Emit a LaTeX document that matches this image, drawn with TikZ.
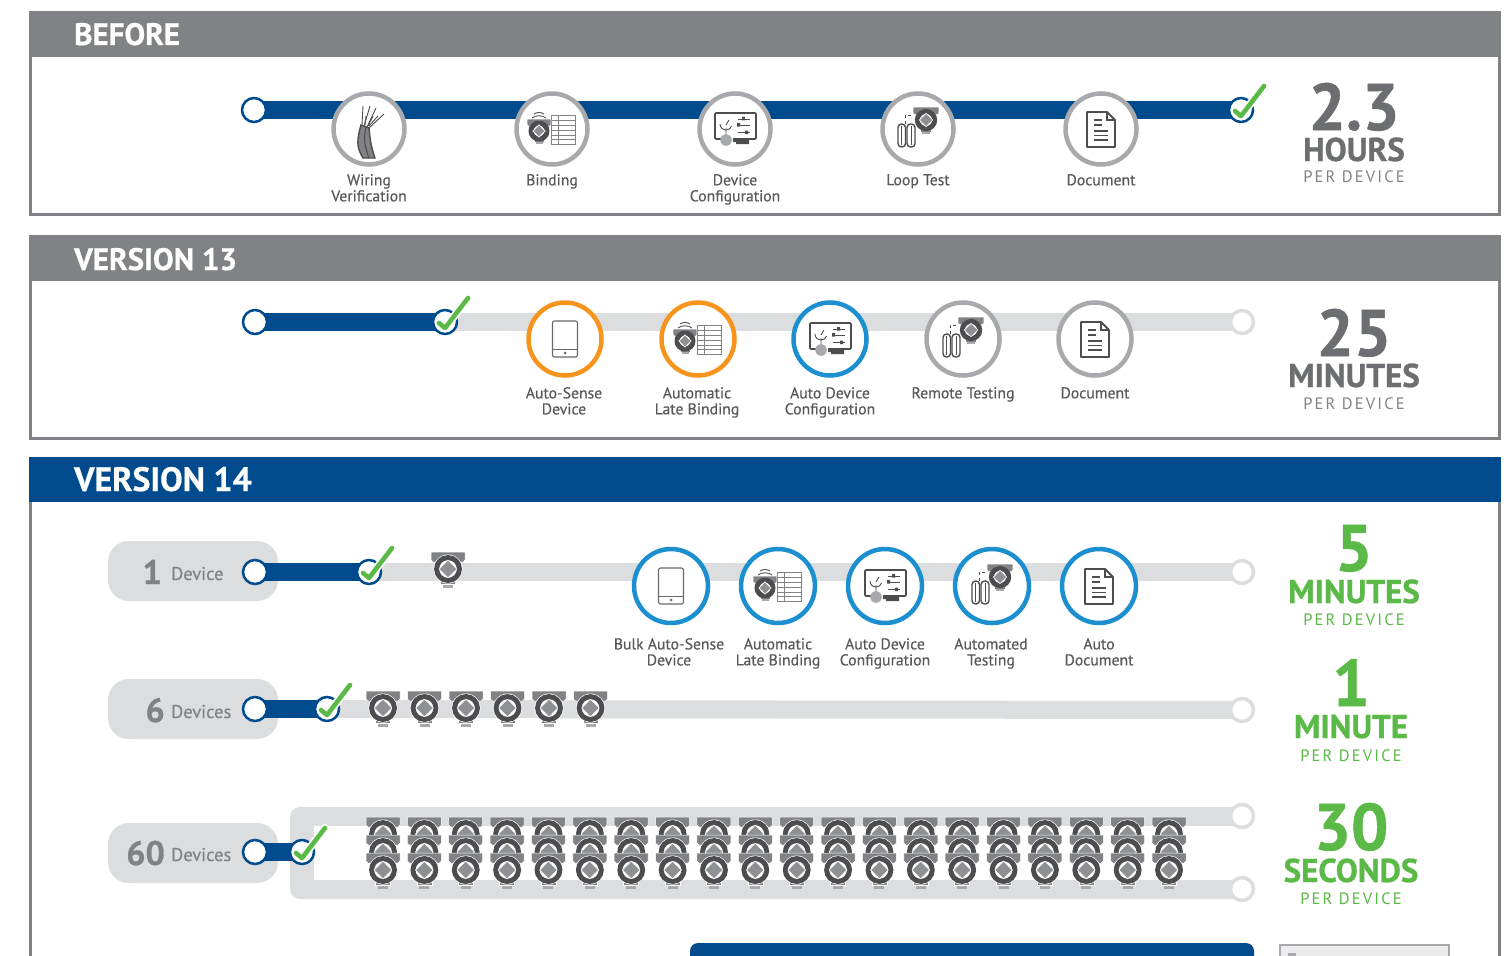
\documentclass[tikz,border=0pt]{standalone}
\usepackage{fontspec}
\setmainfont{PT Sans}
\definecolor{headgrey}{HTML}{808285}
\definecolor{ringgrey}{HTML}{A7A9AC}
\definecolor{trackgrey}{HTML}{DCDDDE}
\definecolor{darkgrey}{HTML}{4D4D4F}
\definecolor{textgrey}{HTML}{58595B}
\definecolor{statgrey}{HTML}{6D6E71}
\definecolor{navy}{HTML}{004B8D}
\definecolor{skyblue}{HTML}{1B8FCF}
\definecolor{amber}{HTML}{F7941D}
\definecolor{tickgreen}{HTML}{5BB947}
\pgfdeclarelayer{backlayer}
\pgfdeclarelayer{tracklayer}
\pgfsetlayers{backlayer,tracklayer,main}
\tikzset{
  panel/.style={draw=headgrey,line width=3pt,fill=white},
  title/.style={anchor=base west,inner sep=0pt,text=white,font=\fontsize{31}{31}\bfseries\selectfont\addfontfeatures{FakeBold=.6}},
  track/.style={line width=18pt,trackgrey},
  done/.style={line width=18pt,navy},
  startdot/.style={circle,draw=navy,fill=white,line width=2.5pt,minimum size=24pt,inner sep=0pt},
  enddot/.style={circle,draw=trackgrey,fill=white,line width=3.5pt,minimum size=23pt,inner sep=0pt},
  iconring/.style={circle,draw=#1,fill=white,line width=4.5pt,minimum size=71pt,inner sep=0pt},
  steplabel/.style={anchor=north,inner sep=0pt,align=center,text=textgrey,font=\fontsize{15.7}{16}\selectfont\addfontfeatures{FakeBold=.35}},
  bignum/.style={anchor=base,inner sep=0pt,font=\fontsize{66}{66}\bfseries\selectfont\addfontfeatures{FakeBold=.8}},
  bigunit/.style={anchor=base,inner sep=0pt,font=\fontsize{33}{33}\bfseries\selectfont\addfontfeatures{FakeBold=.8}},
  perdev/.style={anchor=base,inner sep=0pt,font=\fontsize{16.5}{16}\selectfont\addfontfeatures{LetterSpace=13}},
  pillbox/.style={fill=trackgrey,rounded corners=21pt},
  pillnum/.style={anchor=base east,inner sep=0pt,text=headgrey,font=\fontsize{34}{34}\bfseries\selectfont\addfontfeatures{FakeBold=.8}},
  pilltext/.style={anchor=base west,inner sep=0pt,text=headgrey,font=\fontsize{18.5}{20}\selectfont\addfontfeatures{FakeBold=.3}},
  % the small pictures
  xmtr/.pic={
    \fill[headgrey,draw=white,line width=.5pt] (-17,-17) -- (17,-17) -- (17,-9) -- (15,-7) -- (-15,-7) -- (-17,-9) -- cycle;
    \fill[headgrey,draw=white,line width=.5pt] (-7.5,11) rectangle (7.5,15.5);
    \fill[ringgrey] (-5,16) rectangle (5,18.5);
    \fill[white] (0,0) circle (14.5);
    \draw[darkgrey,line width=5pt,fill=white] (0,0) circle (11.4);
    \fill[ringgrey!85!black,draw=white,line width=.6pt] (0,-8.8) -- (8.8,0) -- (0,8.8) -- (-8.8,0) -- cycle;
  },
  tick/.pic={
    \draw[white,line width=8pt,line cap=round,line join=round] (-6,1) -- (0,6) -- (23,-24);
    \draw[tickgreen,line width=4.6pt,line cap=round,line join=round] (-6,1) -- (0,6) -- (23,-24);
  },
  wireicon/.pic={
    \draw[darkgrey,fill=headgrey,line width=1.4pt] (-6,29) .. controls (-13,18) and (-12,10) .. (-8,-4) -- (0,-1) .. controls (1,10) and (2,18) .. (6,29) -- cycle;
    \draw[darkgrey,line width=1pt] (-3,-2) .. controls (-6,10) and (-4,18) .. (0,29);
    \draw[darkgrey,line width=.9pt] (-7,-4) -- (-6,-23) (-5,-3) -- (1,-23) (-2,-2) -- (7,-21) (0,-1) -- (15,-15);
    \draw[darkgrey,line width=.9pt] (-4,-4) -- (-3,-13) (-1,-3) -- (4,-13) (0,-3) -- (9,-13);
  },
  tableicon/.pic={
    \draw[darkgrey!70,line width=.9pt] (-1,-14) rectangle (23,15);
    \draw[darkgrey!70,line width=.8pt] (6,-14) -- (6,15) (-1,-9) -- (23,-9) (-1,-4) -- (23,-4) (-1,1) -- (23,1) (-1,6) -- (23,6) (-1,10) -- (23,10);
    \pic[scale=.7] at (-13,2) {xmtr};
    \draw[darkgrey,line width=.9pt] (-20,-11) .. controls (-16,-14) and (-10,-14) .. (-6,-11);
    \draw[darkgrey,line width=.9pt] (-18,-15) .. controls (-15,-17) and (-11,-17) .. (-8,-15);
  },
  configicon/.pic={
    \draw[darkgrey,line width=1.6pt,rounded corners=1pt] (-14,10) -- (-20,10) -- (-20,-16) -- (21,-16) -- (21,10) -- (-2,10);
    \fill[darkgrey] (-2,10) rectangle (14,13) (1,13) rectangle (14,15);
    \draw[darkgrey,line width=.9pt] (-15,-5) arc (180:20:6);
    \draw[darkgrey,line width=.9pt] (-9,-4) -- (-6,-9) (-9,-1) -- (-9,6);
    \draw[darkgrey,line width=.9pt] (3,-10) -- (15,-10) (3,-4) -- (15,-4) (3,3) -- (15,3);
    \fill[darkgrey] (7,-12) rectangle (10,-8.5) (2,-6) rectangle (5,-2.5) (10,1.5) rectangle (13,5);
    \fill[ringgrey] (-9,11) circle (5.8);
  },
  loopicon/.pic={
    \draw[darkgrey,line width=1.4pt,rounded corners=3.5pt] (-20,18) -- (-20,-5) -- (-12.5,-5) -- (-12.5,18) -- cycle;
    \draw[darkgrey,line width=1.4pt,rounded corners=3.5pt] (-11,18) -- (-11,-5) -- (-3,-5) -- (-3,18) -- cycle;
    \draw[darkgrey,line width=.9pt] (-16.2,-3) -- (-16.2,16) (-7,-3) -- (-7,16);
    \draw[darkgrey,line width=.8pt,dashed] (-13,-5) -- (-13,-14) -- (-5,-14);
    \pic[scale=.76] at (8,-9) {xmtr};
  },
  docicon/.pic={
    \draw[darkgrey,line width=1.8pt,line join=round] (-14,-17) -- (6,-17) -- (14,-9) -- (14,18) -- (-14,18) -- cycle;
    \draw[darkgrey,line width=1.1pt] (6,-17) -- (6,-9) -- (14,-9);
    \draw[darkgrey,line width=1.1pt] (-7,-9) -- (1,-9) (-7,-4) -- (1,-4) (-7,2) -- (7,2) (-7,6.5) -- (7,6.5) (-7,11) -- (7,11);
  },
  tableticon/.pic={
    \draw[darkgrey!85,line width=1.1pt,rounded corners=2pt] (-12.5,-18) rectangle (12.5,18);
    \draw[darkgrey!85,line width=.5pt] (-12.5,10) -- (12.5,10);
    \fill[darkgrey!85] (0,14) circle (1.5);
  },
}
\begin{document}
\begin{tikzpicture}[x=1pt,y=-1pt]
  \useasboundingbox (0,0) rectangle (1511,955);
  \clip (0,0) rectangle (1511,955);
  % before
  \begin{pgfonlayer}{backlayer}
    \draw[panel] (30.5,40) rectangle (1499.5,214);
    \fill[headgrey] (29,11) rectangle (1501,57);
  \end{pgfonlayer}
  \node[title] (titlebefore) at (74,45) {BEFORE};
  \node[startdot] (startA) at (254,110) {};
  \node[startdot] (tickA) at (1241,110) {};
  \begin{pgfonlayer}{tracklayer}
    \draw[done] (startA.center) -- (tickA.center);
  \end{pgfonlayer}
  \pic at (tickA) {tick};
  \node[iconring=ringgrey] (wiring) at (369,129) {};
  \node[iconring=ringgrey] (binding) at (552,129) {};
  \node[iconring=ringgrey] (config) at (735,129) {};
  \node[iconring=ringgrey] (looptest) at (918,129) {};
  \node[iconring=ringgrey] (docA) at (1101,129) {};
  \pic at (wiring) {wireicon};
  \pic at (binding) {tableicon};
  \pic at (config) {configicon};
  \pic at (looptest) {loopicon};
  \pic at (docA) {docicon};
  \node[steplabel] (lwiring) at (369,174) {Wiring\\Verification};
  \node[steplabel] (lbinding) at (552,174) {Binding};
  \node[steplabel] (lconfig) at (735,174) {Device\\Configuration};
  \node[steplabel] (llooptest) at (918,174) {Loop Test};
  \node[steplabel] (ldocA) at (1101,174) {Document};
  % version 13
  \begin{pgfonlayer}{backlayer}
    \draw[panel] (30.5,260) rectangle (1499.5,438);
    \fill[headgrey] (29,235) rectangle (1501,281);
  \end{pgfonlayer}
  \node[title] (titlethirteen) at (74,270) {VERSION 13};
  \node[startdot] (startB) at (255,322) {};
  \node[startdot] (tickB) at (445,322) {};
  \node[enddot] (endB) at (1242,322) {};
  \begin{pgfonlayer}{tracklayer}
    \draw[track] (tickB.center) -- (endB.center);
    \draw[done] (startB.center) -- (tickB.center);
  \end{pgfonlayer}
  \pic at (tickB) {tick};
  \node[iconring=amber,minimum size=73pt] (sense) at (565,339) {};
  \node[iconring=amber,minimum size=73pt] (latebind) at (698,339) {};
  \node[iconring=skyblue,minimum size=73pt] (autoconf) at (830,339) {};
  \node[iconring=ringgrey,minimum size=73pt] (remote) at (963,339) {};
  \node[iconring=ringgrey,minimum size=73pt] (docB) at (1095,339) {};
  \pic at (sense) {tableticon};
  \pic at (latebind) {tableicon};
  \pic at (autoconf) {configicon};
  \pic at (remote) {loopicon};
  \pic at (docB) {docicon};
  \node[steplabel] (lsense) at (564,387) {Auto-Sense\\Device};
  \node[steplabel] (llatebind) at (697,387) {Automatic\\Late Binding};
  \node[steplabel] (lautoconf) at (830,387) {Auto Device\\Configuration};
  \node[steplabel] (lremote) at (963,387) {Remote Testing};
  \node[steplabel] (ldocB) at (1095,387) {Document};
  % version 14
  \begin{pgfonlayer}{backlayer}
    \draw[panel] (30.5,480) rectangle (1499.5,990);
    \fill[navy] (29,457) rectangle (1501,502);
    \fill[pillbox] (108,541) rectangle (278,601);
    \fill[pillbox] (108,679) rectangle (278,739);
    \fill[pillbox] (108,823) rectangle (278,883);
  \end{pgfonlayer}
  \node[title,font=\fontsize{33.8}{33}\bfseries\selectfont\addfontfeatures{FakeBold=.6}] (titlefourteen) at (74,491) {VERSION 14};
  \node[pillnum] (numone) at (162,584) {1};
  \node[pilltext] (txtone) at (171,580) {Device};
  \node[pillnum] (numsix) at (165,722) {6};
  \node[pilltext] (txtsix) at (171,718) {Devices};
  \node[pillnum] (numsixty) at (165,865) {60};
  \node[pilltext] (txtsixty) at (171,861) {Devices};
  % one device
  \node[startdot] (startC) at (255,572) {};
  \node[startdot] (tickC) at (369,572) {};
  \node[enddot] (endC) at (1242,572) {};
  \begin{pgfonlayer}{tracklayer}
    \draw[track] (tickC.center) -- (endC.center);
    \draw[done] (startC.center) -- (tickC.center);
  \end{pgfonlayer}
  \pic at (tickC) {tick};
  \pic at (448,569) {xmtr};
  \node[iconring=skyblue,minimum size=74pt] (bulk) at (671,586) {};
  \node[iconring=skyblue,minimum size=74pt] (latebindC) at (778,586) {};
  \node[iconring=skyblue,minimum size=74pt] (autoconfC) at (885,586) {};
  \node[iconring=skyblue,minimum size=74pt] (autotest) at (992,586) {};
  \node[iconring=skyblue,minimum size=74pt] (autodoc) at (1099,586) {};
  \pic at (bulk) {tableticon};
  \pic at (latebindC) {tableicon};
  \pic at (autoconfC) {configicon};
  \pic at (autotest) {loopicon};
  \pic at (autodoc) {docicon};
  \node[steplabel] (lbulk) at (669,638) {Bulk Auto-Sense\\Device};
  \node[steplabel] (llatebindC) at (778,638) {Automatic\\Late Binding};
  \node[steplabel] (lautoconfC) at (885,638) {Auto Device\\Configuration};
  \node[steplabel] (lautotest) at (991,638) {Automated\\Testing};
  \node[steplabel] (lautodoc) at (1099,638) {Auto\\Document};
  % six devices
  \node[startdot] (startD) at (255,709) {};
  \node[startdot] (tickD) at (327,709) {};
  \node[enddot] (endD) at (1242,710) {};
  \begin{pgfonlayer}{tracklayer}
    \draw[track] (tickD.center) -- (endD.center);
    \draw[done] (startD.center) -- (tickD.center);
  \end{pgfonlayer}
  \pic at (tickD) {tick};
  \foreach \i in {0,...,5}
    \pic at ({383+\i*41.5},708) {xmtr};
  % sixty devices
  \begin{pgfonlayer}{backlayer}
    \fill[trackgrey] (1242,807) [rounded corners=10pt] -- (290,807) -- (290,899) [sharp corners] -- (1242,899) -- cycle;
    \fill[white] (314,826) rectangle (1250,880);
  \end{pgfonlayer}
  \node[enddot] (endE) at (1242,816) {};
  \node[enddot] (endF) at (1242,889) {};
  \node[startdot] (startE) at (255,852) {};
  \node[startdot] (tickE) at (302,852) {};
  \begin{pgfonlayer}{tracklayer}
    \draw[done] (startE.center) -- (tickE.center);
  \end{pgfonlayer}
  \pic at (tickE) {tick};
  \foreach \row in {834,852,870}
    \foreach \i in {0,...,19}
      \pic at ({383+\i*41.37},\row) {xmtr};
  % times per device
  \foreach \idx/\xa/\ya/\yb/\yc/\num/\unit/\col/\pcol in {
      a/1354/130/161/182/2.3/HOURS/statgrey/headgrey,
      b/1354/356/387/409/25/MINUTES/statgrey/headgrey,
      c/1354/571/603/625/5/MINUTES/tickgreen/tickgreen,
      d/1351/706/738/761/1/MINUTE/tickgreen/tickgreen,
      e/1351/850/882/904/30/SECONDS/tickgreen/tickgreen} {
    \node[bignum,text=\col] (num\idx) at (\xa,\ya) {\num};
    \node[bigunit,text=\col] (unit\idx) at (\xa,\yb) {\unit};
    \node[perdev,text=\pcol] (per\idx) at (\xa,\yc) {PER DEVICE};
  }
  % bottom boxes
  \fill[navy,rounded corners=8pt] (690,943) rectangle (1254,990);
  \draw[ringgrey,fill=trackgrey!55,line width=1.2pt] (1280,945) rectangle (1449,990);
  \fill[ringgrey] (1288,953) rectangle (1296,960);
\end{tikzpicture}
\end{document}
